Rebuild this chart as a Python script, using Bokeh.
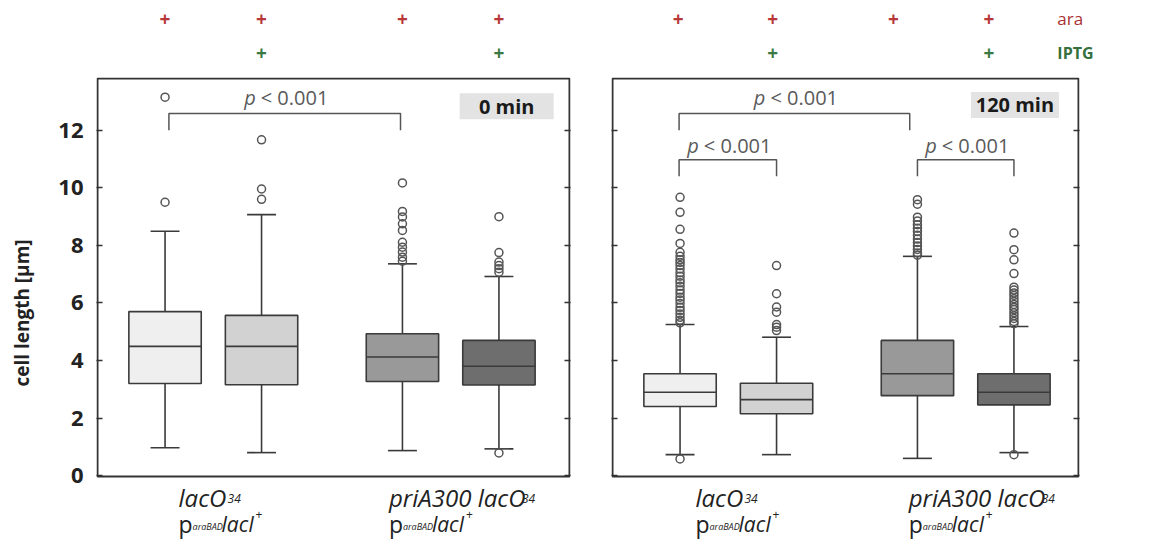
import numpy as np
from bokeh.plotting import figure
from bokeh.layouts import row, column
from bokeh.models import Range1d, LinearAxis, FixedTicker, ColumnDataSource
from bokeh.core.properties import value
from bokeh.embed import file_html
from bokeh.resources import INLINE

# ---------------- data ----------------
positions = [1.0, 2.0, 3.46, 4.46]
box_fills = ["#efefef", "#d2d2d2", "#999999", "#6e6e6e"]
y_ticks = [0, 2, 4, 6, 8, 10, 12]

t0_q1 = [3.20, 3.16, 3.27, 3.15]
t0_med = [4.49, 4.49, 4.12, 3.80]
t0_q3 = [5.70, 5.57, 4.93, 4.70]
t0_lo = [0.97, 0.80, 0.87, 0.93]
t0_hi = [8.49, 9.07, 7.36, 6.92]
t0_out = [
    [13.15, 9.50],
    [11.67, 9.96, 9.60],
    [10.17, 9.18, 8.99, 8.75, 8.52, 8.11, 7.94, 7.77, 7.59, 7.45],
    [9.00, 7.75, 7.42, 7.30, 7.19, 7.07, 0.79],
]

t120_q1 = [2.40, 2.15, 2.78, 2.46]
t120_med = [2.90, 2.64, 3.54, 2.90]
t120_q3 = [3.54, 3.21, 4.70, 3.54]
t120_lo = [0.73, 0.73, 0.60, 0.80]
t120_hi = [5.25, 4.81, 7.62, 5.18]
t120_out = [
    [9.67, 9.15, 8.56, 8.07, 7.76, 7.62, 7.50, 7.41, 7.30, 7.18, 7.05, 6.93, 6.80,
     6.70, 6.58, 6.45, 6.33, 6.20, 6.10, 5.98, 5.85, 5.74, 5.62, 5.50, 5.40, 5.31, 0.58],
    [7.30, 6.32, 5.86, 5.68, 5.25, 5.16, 5.04],
    [9.59, 9.43, 8.98, 8.85, 8.72, 8.60, 8.48, 8.35, 8.22, 8.10, 7.98, 7.86, 7.74, 7.66],
    [8.43, 7.85, 7.50, 7.02, 6.55, 6.45, 6.35, 6.26, 6.15, 6.05, 5.95, 5.85, 5.77,
     5.66, 5.56, 5.46, 5.36, 5.28, 0.73],
]

ara_flags = ["+", "+", "+", "+"]
iptg_flags = ["", "+", "", "+"]
time_labels = ["0 min", "120 min"]
p_label = "p"
p_rest = "< 0.001"

FONT = "Open Sans"
LC = "#3a3a3a"
GRAY_TXT = "#5a5a5a"
RED = "#b8383a"
GREEN = "#3c7a45"
TXT = "#222222"

# ---------------- layout constants ----------------
Y0, Y1 = -0.03, 13.8          # visible box (data units)
PXU = 398 / (Y1 - Y0)         # px per y unit
UNIT = 96.5                   # px per x unit
X0 = 0.30
LEFT_BOX = 472
RIGHT_BOX = 466
TOP_H = 77                    # height of the ara/IPTG strip
MAIN_H = 471                  # panel height (box + strain labels)
Y_TOP = Y1 + 1 / PXU
Y_BOT = Y_TOP - MAIN_H / PXU


def page_y(py):
    return Y_TOP - (py - TOP_H) / PXU


def add_axis(p, side, labels):
    ax = LinearAxis(ticker=FixedTicker(ticks=y_ticks))
    ax.axis_line_color = None
    ax.major_tick_in = 6
    ax.major_tick_out = 0
    ax.major_tick_line_color = "#333333"
    ax.major_tick_line_width = 1.5
    ax.minor_tick_line_color = None
    if labels:
        ax.major_label_text_font = FONT
        ax.major_label_text_font_size = "22px"
        ax.major_label_text_font_style = "bold"
        ax.major_label_text_color = TXT
        ax.major_label_standoff = 13
        ax.axis_label = "cell length [µm]"
        ax.axis_label_text_font = FONT
        ax.axis_label_text_font_size = "19px"
        ax.axis_label_text_font_style = "bold"
        ax.axis_label_text_color = TXT
        ax.axis_label_standoff = 20
    else:
        ax.major_label_overrides = {t: "" for t in y_ticks}
        ax.major_label_standoff = 0
    p.add_layout(ax, side)


def txt(p, x, y, text, size, style="normal", color=TXT, align="left", baseline="alphabetic",
        xo=0):
    p.text(x=[x], y=[y], text=[text], text_font=value(FONT), text_font_size=size,
           text_font_style=style, text_color=color, text_align=align,
           text_baseline=baseline, x_offset=xo)


def make_panel(width, box_w, bl, br, q1, med, q3, lo, hi, outs, with_labels):
    xr = Range1d(X0 - 1 / UNIT, X0 + (box_w + 1) / UNIT)
    p = figure(width=width, height=MAIN_H, x_range=xr, y_range=Range1d(Y_BOT, Y_TOP),
               output_backend="svg", toolbar_location=None,
               x_axis_location=None, y_axis_location=None,
               min_border_left=bl, min_border_right=br,
               min_border_top=0, min_border_bottom=0)
    p.xgrid.visible = False
    p.ygrid.visible = False
    p.outline_line_color = None
    p.background_fill_color = "white"
    p.border_fill_color = "white"
    add_axis(p, "left", with_labels)
    add_axis(p, "right", False)

    # panel box
    p.quad(left=[X0], right=[X0 + box_w / UNIT], bottom=[Y0], top=[Y1],
           fill_color=None, line_color="#333333", line_width=2)

    x = np.array(positions)
    src = ColumnDataSource(dict(x=x, xl=x - 0.15, xr=x + 0.15, bl=x - 0.375, br=x + 0.375,
                                q1=q1, med=med, q3=q3, lo=lo, hi=hi, fill=box_fills))
    p.segment(x0="x", x1="x", y0="q3", y1="hi", source=src, line_color=LC, line_width=1.6)
    p.segment(x0="x", x1="x", y0="q1", y1="lo", source=src, line_color=LC, line_width=1.6)
    p.segment(x0="xl", x1="xr", y0="hi", y1="hi", source=src, line_color=LC, line_width=1.6)
    p.segment(x0="xl", x1="xr", y0="lo", y1="lo", source=src, line_color=LC, line_width=1.6)
    p.vbar(x="x", width=0.75, bottom="q1", top="q3", fill_color="fill", source=src,
           line_color=LC, line_width=1.6)
    p.segment(x0="bl", x1="br", y0="med", y1="med", source=src, line_color=LC, line_width=1.6)

    ox = [positions[i] for i, o in enumerate(outs) for _ in o]
    oy = [v for o in outs for v in o]
    p.scatter(x=ox, y=oy, marker="circle", size=8, fill_color=None,
              line_color="#555555", line_width=1.5)
    return p, xr


def strip(width, xr, height, bl, br):
    s = figure(width=width, height=height, x_range=xr, y_range=Range1d(0, height),
               output_backend="svg", toolbar_location=None,
               x_axis_location=None, y_axis_location=None,
               min_border_left=bl, min_border_right=br,
               min_border_top=0, min_border_bottom=0)
    s.xgrid.visible = False
    s.ygrid.visible = False
    s.outline_line_color = None
    s.background_fill_color = "white"
    s.border_fill_color = "white"
    return s


def bracket(p, xa, xb, ytop, ylow, ytext):
    p.multi_line(xs=[[xa, xa, xb, xb]], ys=[[ylow, ytop, ytop, ylow]],
                 line_color="#555555", line_width=1.5)
    xc = (xa + xb) / 2
    txt(p, xc, ytext, p_label, "20px", "italic", GRAY_TXT, "right", "middle", xo=-29)
    txt(p, xc, ytext, p_rest, "20px", "normal", GRAY_TXT, "left", "middle", xo=-24)


def time_box(p, xc, yc, label, w):
    p.rect(x=[xc], y=[yc], width=w, height=26, width_units="screen", height_units="screen",
           fill_color="#e3e3e3", line_color=None)
    txt(p, xc, yc, label, "20px", "bold", "#1a1a1a", "center", "middle")


def flags(s, xs):
    for xv, a, g in zip(xs, ara_flags, iptg_flags):
        if a:
            txt(s, xv, TOP_H - 18, a, "19px", "bold", RED, "center", "middle")
        if g:
            txt(s, xv, TOP_H - 52, g, "19px", "bold", GREEN, "center", "middle")


def group_labels(p, anchors):
    yb1, yb2 = page_y(497), page_y(523)
    for k, ax in enumerate(anchors):
        first = "lacO" if k == 0 else "priA300 lacO"
        w1 = 49 if k == 0 else 133
        txt(p, ax, yb1, first, "24px", "italic")
        txt(p, ax, yb1 - 1 / PXU, "34", "12px", "italic", xo=w1)
        txt(p, ax, yb2, "p", "23px", "normal")
        txt(p, ax, yb2 - 3 / PXU, "araBAD", "9px", "italic", xo=14)
        txt(p, ax, yb2, "lacI", "21px", "italic", xo=43)
        txt(p, ax, yb2 + 9 / PXU, "+", "12px", "normal", xo=77)


# ---------------- main panels ----------------
p1, xr_left = make_panel(579, LEFT_BOX, 96, 9, t0_q1, t0_med, t0_q3, t0_lo, t0_hi,
                         t0_out, True)
bracket(p1, positions[0] + 0.04, positions[2] - 0.02, 12.58, 12.0, 13.15)
time_box(p1, 4.54, 12.84, time_labels[0], 94)
group_labels(p1, [positions[0] + 0.14, positions[2] - 0.14])

p2, xr_right = make_panel(569, RIGHT_BOX, 32, 69, t120_q1, t120_med, t120_q3, t120_lo,
                          t120_hi, t120_out, False)
bracket(p2, positions[0] - 0.01, positions[2] - 0.08, 12.58, 12.0, 13.15)
bracket(p2, positions[0] - 0.01, positions[1], 10.98, 10.40, 11.48)
bracket(p2, positions[2], positions[3], 10.98, 10.40, 11.48)
time_box(p2, 4.47, 12.88, time_labels[1], 88)
group_labels(p2, [positions[0] + 0.16, positions[2] - 0.09])

# ---------------- top strips (ara / IPTG) ----------------
t1 = strip(579, xr_left, TOP_H, 96, 9)
flags(t1, positions)
t2 = strip(569, Range1d(X0 - 1 / UNIT, X0 + 536 / UNIT), TOP_H, 32, 0)
flags(t2, [0.98, 1.96, 3.21, 4.20])
txt(t2, 4.91, TOP_H - 18, "ara", "17px", "normal", "#a83232", "left", "middle")
txt(t2, 4.91, TOP_H - 52, "IPTG", "16px", "bold", "#35703d", "left", "middle")

layout = column(row(t1, t2), row(p1, p2))
open("out.html", "w").write(file_html(layout, INLINE))
